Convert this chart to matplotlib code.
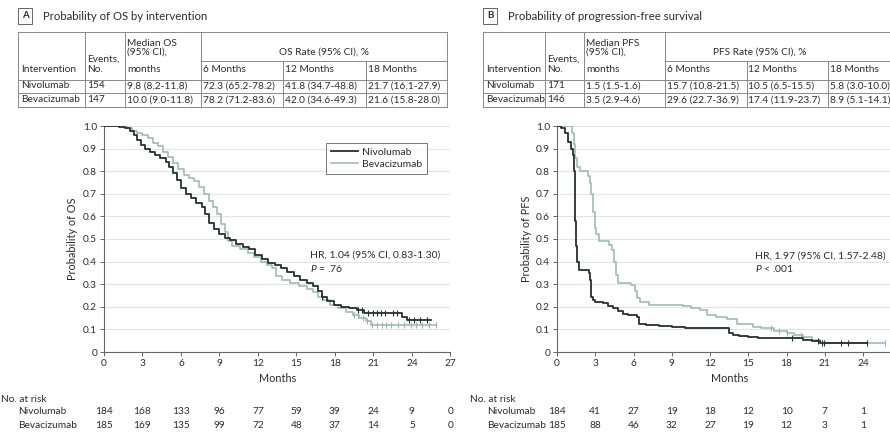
import matplotlib
matplotlib.use('Agg')
import matplotlib.pyplot as plt
import matplotlib.transforms as mtrans
from matplotlib.lines import Line2D
import numpy as np

plt.rcParams['font.family'] = ['Lato', 'DejaVu Sans']
plt.rcParams['mathtext.fontset'] = 'custom'
plt.rcParams['mathtext.it'] = 'Lato:italic'
plt.rcParams['mathtext.rm'] = 'Lato'

# ---------------- data ----------------
arms = ['Nivolumab', 'Bevacizumab']

# OS Kaplan-Meier step points (months, survival)
os_niv_t = [0, 1.2, 1.6, 2.0, 2.3, 2.6, 2.9, 3.2, 3.6, 4.0, 4.4, 4.8, 5.1, 5.4, 5.7, 6.0, 6.4, 6.8, 7.2, 7.6,
            7.9, 8.2, 8.6, 9.0, 9.4, 9.8, 10.3, 10.8, 11.3, 11.8, 12.3, 12.8, 13.3, 13.8, 14.3, 14.8, 15.3,
            15.8, 16.3, 16.7, 17.0, 17.4, 17.9, 18.5, 19.1, 19.7, 20.3, 23.2, 23.6, 25.5]
os_niv_s = [1.0, 0.995, 0.99, 0.98, 0.96, 0.94, 0.916, 0.90, 0.885, 0.872, 0.86, 0.84, 0.82, 0.79, 0.76,
            0.725, 0.70, 0.68, 0.66, 0.64, 0.61, 0.57, 0.545, 0.52, 0.505, 0.495, 0.48, 0.465, 0.455, 0.43,
            0.41, 0.395, 0.385, 0.37, 0.355, 0.335, 0.32, 0.305, 0.29, 0.27, 0.245, 0.225, 0.21, 0.20, 0.193,
            0.185, 0.172, 0.155, 0.14, 0.14]
os_bev_t = [0, 1.8, 2.2, 2.6, 3.0, 3.4, 3.8, 4.2, 4.6, 5.0, 5.4, 5.8, 6.2, 6.6, 7.0, 7.4, 7.8, 8.2, 8.5,
            8.8, 9.1, 9.4, 9.7, 10.0, 10.6, 11.2, 11.7, 12.2, 12.7, 13.1, 13.4, 13.9, 14.5, 15.2, 15.8, 16.3,
            16.7, 17.1, 17.6, 18.2, 18.9, 19.4, 19.9, 20.4, 20.8, 25.9]
os_bev_s = [1.0, 0.99, 0.98, 0.97, 0.96, 0.945, 0.925, 0.91, 0.885, 0.865, 0.835, 0.81, 0.785, 0.77,
            0.755, 0.73, 0.70, 0.67, 0.64, 0.61, 0.565, 0.53, 0.49, 0.47, 0.455, 0.44, 0.42, 0.40, 0.385,
            0.37, 0.335, 0.32, 0.305, 0.29, 0.28, 0.265, 0.245, 0.23, 0.21, 0.195, 0.178, 0.165, 0.15,
            0.135, 0.12, 0.12]
os_niv_cens = [17.0, 19.8, 20.1, 20.6, 21.0, 21.3, 21.6, 21.9, 22.5, 22.8, 23.8, 24.2, 24.6, 25.2]
os_bev_cens = [19.5, 19.8, 20.2, 20.5, 20.9, 21.3, 21.7, 22.0, 22.4, 22.9, 23.4, 23.9, 24.3, 24.8, 25.3, 25.9]

# PFS Kaplan-Meier step points
pfs_niv_t = [0, 0.3, 0.6, 0.9, 1.1, 1.25, 1.33, 1.38, 1.43, 1.48, 1.55, 1.7, 2.5, 2.6, 2.7, 2.85, 3.0,
             3.6, 4.0, 4.4, 4.8, 5.2, 5.6, 6.3, 6.45, 7.0, 8.0, 9.0, 10.0, 13.5, 13.8, 14.3, 15.0, 15.8,
             19.3, 20.0, 20.6, 24.3]
pfs_niv_s = [1.0, 0.99, 0.97, 0.93, 0.90, 0.87, 0.80, 0.70, 0.58, 0.47, 0.40, 0.365, 0.35, 0.32, 0.245,
             0.23, 0.22, 0.215, 0.205, 0.195, 0.18, 0.17, 0.165, 0.155, 0.125, 0.12, 0.115, 0.11, 0.108,
             0.085, 0.075, 0.07, 0.065, 0.06, 0.055, 0.05, 0.042, 0.042]
pfs_bev_t = [0, 1.2, 1.3, 1.45, 1.6, 1.8, 2.4, 2.55, 2.7, 2.85, 2.95, 3.05, 3.3, 4.1, 4.3, 4.45, 4.6, 4.8,
             5.8, 6.1, 6.3, 6.5, 7.2, 9.9, 10.5, 11.2, 11.8, 12.5, 13.3, 14.1, 15.4, 16.0, 17.0, 18.0,
             18.6, 19.3, 20.0, 20.6, 25.7]
pfs_bev_s = [1.0, 0.97, 0.92, 0.86, 0.82, 0.80, 0.78, 0.75, 0.70, 0.62, 0.55, 0.52, 0.49, 0.475, 0.45,
             0.40, 0.34, 0.305, 0.295, 0.27, 0.24, 0.22, 0.21, 0.205, 0.195, 0.185, 0.165, 0.155, 0.145,
             0.125, 0.11, 0.105, 0.095, 0.085, 0.075, 0.065, 0.055, 0.042, 0.042]
pfs_niv_cens = [18.4, 20.5, 20.8, 20.95, 22.3, 22.8, 24.3]
pfs_bev_cens = [16.8, 17.4, 18.0, 19.1, 25.7]

# numbers at risk
risk_times = [0, 3, 6, 9, 12, 15, 18, 21, 24, 27]
os_risk_niv = [184, 168, 133, 96, 77, 59, 39, 24, 9, 0]
os_risk_bev = [185, 169, 135, 99, 72, 48, 37, 14, 5, 0]
pfs_risk_niv = [184, 41, 27, 19, 18, 12, 10, 7, 1]
pfs_risk_bev = [185, 88, 46, 32, 27, 19, 12, 3, 1]

# tables
os_header = ['Intervention', ['Events,', 'No.'], ['Median OS', '(95% CI),', 'months']]
os_rate_title = 'OS Rate (95% CI), %'
rate_cols = ['6 Months', '12 Months', '18 Months']
os_rows = [['Nivolumab', '154', '9.8 (8.2-11.8)', '72.3 (65.2-78.2)', '41.8 (34.7-48.8)', '21.7 (16.1-27.9)'],
           ['Bevacizumab', '147', '10.0 (9.0-11.8)', '78.2 (71.2-83.6)', '42.0 (34.6-49.3)', '21.6 (15.8-28.0)']]
pfs_header = ['Intervention', ['Events,', 'No.'], ['Median PFS', '(95% CI),', 'months']]
pfs_rate_title = 'PFS Rate (95% CI), %'
pfs_rows = [['Nivolumab', '171', '1.5 (1.5-1.6)', '15.7 (10.8-21.5)', '10.5 (6.5-15.5)', '5.8 (3.0-10.0)'],
            ['Bevacizumab', '146', '3.5 (2.9-4.6)', '29.6 (22.7-36.9)', '17.4 (11.9-23.7)', '8.9 (5.1-14.1)']]

hr_os = ['HR, 1.04 (95% CI, 0.83-1.30)', '$P$ = .76']
hr_pfs = ['HR, 1.97 (95% CI, 1.57-2.48)', '$P$ < .001']

# ---------------- style ----------------
W, H = 890, 432
fig = plt.figure(figsize=(W / 100, H / 100), dpi=100)
DARK = '#26312c'
LIGHT = '#96b9a8'
TXT = '#2b2b2b'
GRID = '#e4e4e4'
LINE = '#8a8a8a'


def fx(px):
    return px / W


def fy(py):
    return 1 - py / H


def hline(x0, x1, y):
    fig.add_artist(Line2D([fx(x0), fx(x1)], [fy(y), fy(y)], transform=fig.transFigure,
                          color=LINE, lw=0.7))


def vline(x, y0, y1):
    fig.add_artist(Line2D([fx(x), fx(x)], [fy(y0), fy(y1)], transform=fig.transFigure,
                          color=LINE, lw=0.7))


def draw_table(cols, header, rate_title, rate_title_x, rows):
    ytop, ypart, yhead, ymid, ybot = 31.5, 61, 79.5, 93, 106.5
    hline(cols[0], cols[-1], ytop)
    hline(cols[3], cols[-1], ypart)
    hline(cols[0], cols[-1], yhead)
    hline(cols[0], cols[-1], ymid)
    hline(cols[0], cols[-1], ybot)
    for c in [cols[0], cols[1], cols[2], cols[3], cols[6]]:
        vline(c, ytop, ybot)
    for c in [cols[4], cols[5]]:
        vline(c, ypart, ybot)
    fs = 7.3
    kw = dict(fontsize=fs, color=TXT, va='center', ha='left')
    fig.text(fx(cols[0] + 3), fy(70), header[0], **kw)
    fig.text(fx(cols[1] + 2), fy(59.5), header[1][0], **kw)
    fig.text(fx(cols[1] + 2), fy(70), header[1][1], **kw)
    for i, yy in enumerate([43, 52, 70]):
        fig.text(fx(cols[2] + 2), fy(yy), header[2][i], **kw)
    fig.text(fx(rate_title_x), fy(52), rate_title, fontsize=fs, color=TXT, va='center', ha='center')
    for j, lab in enumerate(rate_cols):
        fig.text(fx(cols[3 + j] + 2), fy(70), lab, **kw)
    for r, yy in zip(rows, [86, 100]):
        for k, val in enumerate(r):
            fig.text(fx(cols[k] + (3 if k == 0 else 2)), fy(yy), val, **kw)


def title(x, letter, text):
    fig.text(fx(x), fy(16), letter, fontsize=7, fontweight='bold', color=TXT, va='center', ha='center',
             bbox=dict(boxstyle='square,pad=0.35', fc='white', ec='#666', lw=0.7))
    fig.text(fx(x + 18), fy(16), text, fontsize=8.2, color=TXT, va='center', ha='left')


def km_panel(x0px, pxpm, curves, ylabel, ylabel_x, hr, hr_xy, risk, risk_label_x, legend=False):
    ax = fig.add_axes([fx(x0px), fy(352), 27 * pxpm / W, 226 / H])
    ax.set_xlim(0, 27)
    ax.set_ylim(0, 1)
    for sp in ['top', 'right']:
        ax.spines[sp].set_visible(False)
    for sp in ['left', 'bottom']:
        ax.spines[sp].set_color('#666')
        ax.spines[sp].set_linewidth(0.8)
    ax.set_xticks(risk_times)
    ax.set_yticks(np.arange(0, 1.01, 0.1))
    ax.set_yticklabels(['0'] + ['%.1f' % v for v in np.arange(0.1, 1.01, 0.1)])
    ax.tick_params(direction='out', length=3, width=0.7, colors='#666', labelsize=7.3,
                   labelcolor=TXT, pad=2)
    ax.yaxis.grid(True, color=GRID, lw=0.8)
    ax.set_axisbelow(True)
    handles = []
    for (t, s, cens, col, lw, name) in curves:
        h, = ax.step(t, s, where='post', color=col, lw=lw, label=name, zorder=3 if col == DARK else 2)
        idx = np.searchsorted(t, cens, side='right') - 1
        ax.plot(cens, np.asarray(s)[idx], ls='none', marker='|', ms=4, mew=0.8, color=col,
                zorder=3 if col == DARK else 2)
        handles.append(h)
    fig.text(fx(ylabel_x), fy(239), ylabel, rotation=90, fontsize=7.8, color=TXT, va='center', ha='center')
    fig.text(fx(hr_xy[0]), fy(hr_xy[1]), hr[0], fontsize=7.5, color=TXT, va='center', ha='left')
    fig.text(fx(hr_xy[0]), fy(hr_xy[1] + 13), hr[1], fontsize=7.5, color=TXT, va='center', ha='left')
    ax.set_xlabel('Months', fontsize=7.8, color=TXT, labelpad=4)
    # numbers at risk
    tr = mtrans.blended_transform_factory(ax.transData, fig.transFigure)
    fig.text(fx(risk_label_x), fy(399), 'No. at risk', fontsize=7.3, color=TXT, va='center', ha='left')
    for name, vals, yy in zip(arms, risk, [412, 425]):
        fig.text(fx(risk_label_x + 17), fy(yy), name, fontsize=7.3, color=TXT, va='center', ha='left')
        for tt, v in zip(risk_times, vals):
            ax.text(tt, fy(yy), str(v), transform=tr, fontsize=7.3, color=TXT, va='center', ha='center',
                    clip_on=False)
    if legend:
        leg = ax.legend(handles=handles, loc='upper left', bbox_to_anchor=(fx(326), fy(143)),
                        bbox_transform=fig.transFigure, fontsize=7.5, frameon=True, fancybox=False,
                        edgecolor='#555', handlelength=2.6, borderpad=0.45, labelspacing=0.25,
                        handletextpad=0.4, borderaxespad=0)
        leg.get_frame().set_linewidth(0.7)
        for t in leg.get_texts():
            t.set_color(TXT)
    return ax


# Panel A
title(25, 'A', 'Probability of OS by intervention')
draw_table([18, 85, 125, 201, 283, 366, 447], os_header, os_rate_title, 324, os_rows)
km_panel(104, 12.83,
         [(os_niv_t, os_niv_s, os_niv_cens, DARK, 1.3, arms[0]),
          (os_bev_t, os_bev_s, os_bev_cens, LIGHT, 1.1, arms[1])],
         'Probability of OS', 73, hr_os, (310, 255), [os_risk_niv, os_risk_bev], 1, legend=True)

# Panel B
title(490, 'B', 'Probability of progression-free survival')
draw_table([483, 545, 584, 665, 746.5, 828, 910], pfs_header, pfs_rate_title, 760, pfs_rows)
km_panel(557, 12.75,
         [(pfs_niv_t, pfs_niv_s, pfs_niv_cens, DARK, 1.3, arms[0]),
          (pfs_bev_t, pfs_bev_s, pfs_bev_cens, LIGHT, 1.1, arms[1])],
         'Probability of PFS', 526, hr_pfs, (755, 256), [pfs_risk_niv, pfs_risk_bev], 470)

fig.savefig('out.png', dpi=100, facecolor='white')
